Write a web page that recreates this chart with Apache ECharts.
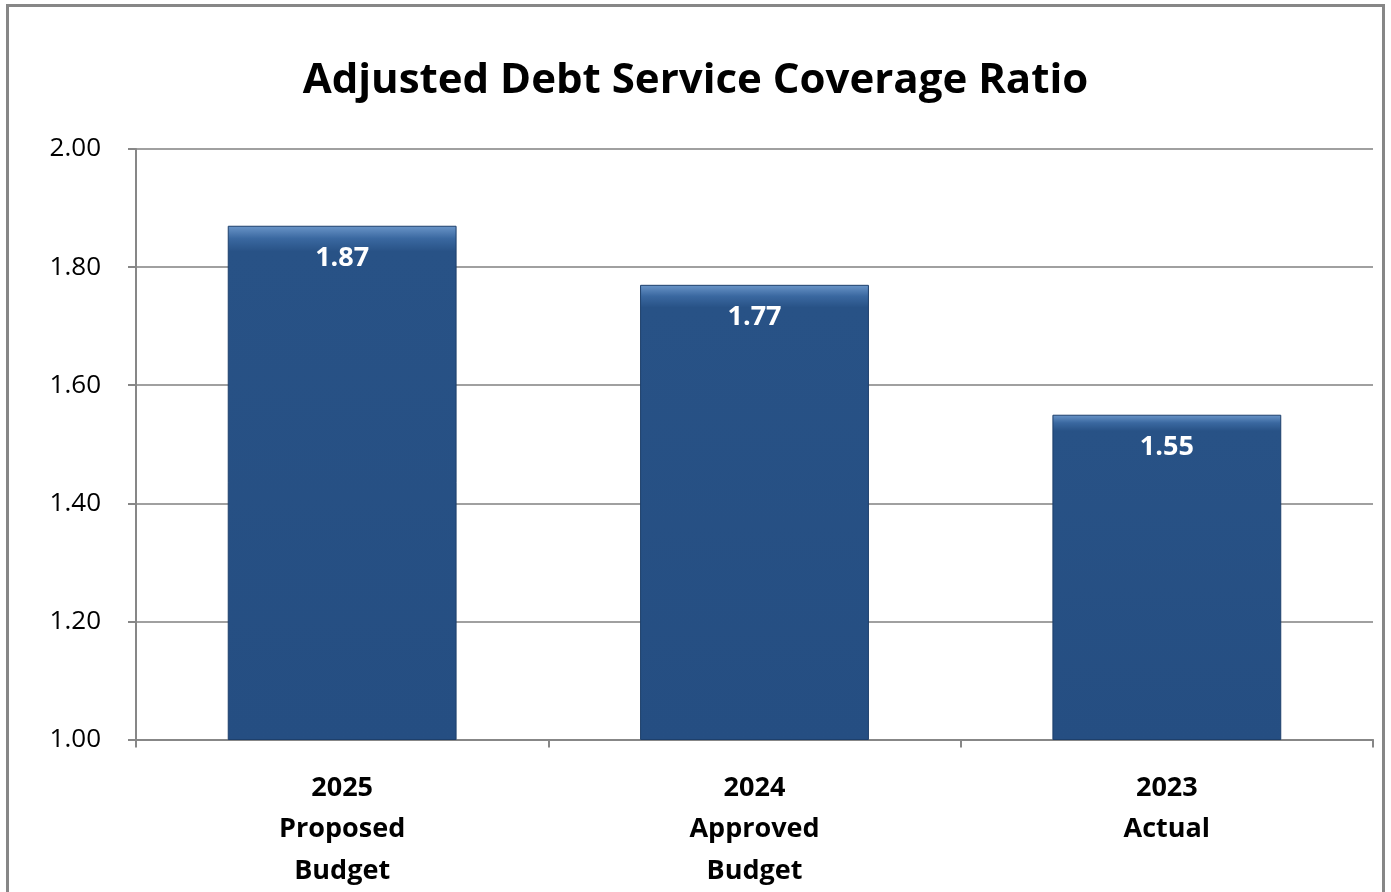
<!DOCTYPE html>
<html>
<head>
<meta charset="utf-8">
<script src="https://cdn.jsdelivr.net/npm/echarts@6/dist/echarts.min.js"></script>
<style>
html,body{margin:0;padding:0;background:#fff;}
#frame{position:absolute;left:6px;top:4px;width:1379px;height:900px;border:3px solid #878787;border-bottom:none;box-sizing:border-box;}
#c{position:absolute;left:0;top:0;width:1391px;height:892px;}
</style>
</head>
<body>
<div id="frame"></div>
<div id="c"></div>
<script>
const categories = ['2025\nProposed\nBudget', '2024\nApproved\nBudget', '2023\nActual'];
const values = [1.87, 1.77, 1.55];
const yMin = 1.0, yMax = 2.0, yStep = 0.2;
const titleText = 'Adjusted Debt Service Coverage Ratio';

const chart = echarts.init(document.getElementById('c'));
chart.setOption({
  backgroundColor: 'transparent',
  animation: false,
  title: {
    text: titleText,
    left: 'center',
    top: 55,
    textStyle: {fontFamily: 'Open Sans', fontWeight: 'bold', fontSize: 42, color: '#000'}
  },
  grid: {left: 136, right: 18, top: 149, bottom: 147, containLabel: false},
  xAxis: {
    type: 'category',
    data: categories,
    axisLine: {lineStyle: {color: '#878787', width: 2}},
    axisTick: {show: true, length: 8, lineStyle: {color: '#878787', width: 2}},
    axisLabel: {
      margin: 28, fontFamily: 'Open Sans', fontWeight: 'bold', fontSize: 27,
      color: '#000', lineHeight: 41.5
    }
  },
  yAxis: {
    type: 'value',
    min: yMin, max: yMax, interval: yStep,
    axisLine: {show: true, lineStyle: {color: '#878787', width: 2}},
    axisTick: {show: true, length: 8, lineStyle: {color: '#878787', width: 2}},
    splitLine: {lineStyle: {color: '#a0a0a0', width: 2}},
    axisLabel: {
      margin: 35, fontFamily: 'Open Sans', fontSize: 26, color: '#000',
      formatter: v => v.toFixed(2)
    }
  },
  series: [{
    type: 'bar',
    data: values,
    barWidth: '55.5%',
    itemStyle: {
      color: new echarts.graphic.LinearGradient(0, 0, 0, 1, [
        {offset: 0, color: '#6b96c9'},
        {offset: 0.025, color: '#3a68a0'},
        {offset: 0.05, color: '#285286'},
        {offset: 1, color: '#254e82'}
      ]),
      borderColor: '#1d3f6b',
      borderWidth: 1
    },
    label: {
      show: true, position: 'insideTop', distance: 19,
      fontFamily: 'Open Sans', fontWeight: 'bold', fontSize: 27, color: '#fff',
      formatter: p => p.value.toFixed(2)
    }
  }]
});
</script>
</body>
</html>
